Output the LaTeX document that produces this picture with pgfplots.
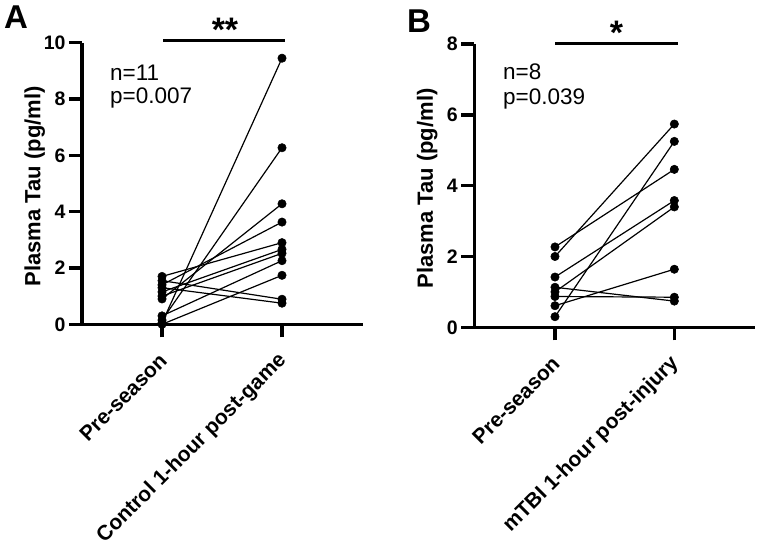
\documentclass[border=0pt]{standalone}
\usepackage{fontspec}
\setmainfont{Liberation Sans}
\usepackage{pgfplots}
\pgfplotsset{compat=1.18}
\pgfplotsset{
 pp/.style={black, solid, line width=1.2pt, mark=*, mark size=4.2pt, mark options={solid, fill=black, draw=black, line width=0.5pt}},
 mystyle/.style={
  scale only axis,
  axis x line=bottom, axis y line=left,
  axis line style={line width=3.5pt, -, black},
  every tick/.style={line width=3.5pt, black},
  major tick length=13pt,
  tick align=outside,
  xtick={1,2},
  ymin=0,
  /pgf/number format/assume math mode=true,
  yticklabel style={font=\fontsize{19.5}{20}\selectfont\bfseries},
  xticklabel style={rotate=45, anchor=east, font=\fontsize{21}{22}\selectfont\bfseries, xshift=-10pt, yshift=-15pt},
  ylabel style={at={(axis description cs:-0.168,0.49)}, anchor=center, font=\fontsize{22}{24}\selectfont\bfseries},
  ylabel={Plasma Tau (pg/ml)},
  clip=false,
 }
}
\begin{document}
\begin{tikzpicture}
\path[use as bounding box] (0,0) rectangle (760pt,-547pt);
% Panel A
\begin{axis}[mystyle, at={(82pt,-324.3pt)}, anchor=south west,
  width=281pt, height=281.6pt, xmin=0.333, xmax=2.675, ymax=10,
  ytick={0,2,4,6,8,10}, xticklabels={Pre-season, Control 1-hour post-game}]
\addplot[pp] coordinates {(1,0.05) (2,9.45)};
\addplot[pp] coordinates {(1,0.15) (2,6.27)};
\addplot[pp] coordinates {(1,0.90) (2,4.28)};
\addplot[pp] coordinates {(1,1.40) (2,3.63)};
\addplot[pp] coordinates {(1,1.70) (2,2.90)};
\addplot[pp] coordinates {(1,1.15) (2,2.66)};
\addplot[pp] coordinates {(1,1.00) (2,2.52)};
\addplot[pp] coordinates {(1,0.30) (2,2.26)};
\addplot[pp] coordinates {(1,0.00) (2,1.74)};
\addplot[pp] coordinates {(1,1.55) (2,0.89)};
\addplot[pp] coordinates {(1,1.30) (2,0.75)};
\end{axis}
% Panel B
\begin{axis}[mystyle, at={(474.3pt,-327.3pt)}, anchor=south west,
  width=280.7pt, height=283.3pt, xmin=0.324, xmax=2.676, ymax=8,
  ytick={0,2,4,6,8}, xticklabels={Pre-season, mTBI 1-hour post-injury}]
\addplot[pp] coordinates {(1,2.27) (2,4.46)};
\addplot[pp] coordinates {(1,2.00) (2,5.74)};
\addplot[pp] coordinates {(1,1.42) (2,3.58)};
\addplot[pp] coordinates {(1,1.00) (2,3.40)};
\addplot[pp] coordinates {(1,1.13) (2,0.74)};
\addplot[pp] coordinates {(1,0.87) (2,0.85)};
\addplot[pp] coordinates {(1,0.61) (2,1.64)};
\addplot[pp] coordinates {(1,0.30) (2,5.25)};
\end{axis}
% annotations
\node[anchor=base west, inner sep=0, font=\fontsize{33}{33}\selectfont\bfseries] at (4pt,-28.5pt) {A};
\node[anchor=base west, inner sep=0, font=\fontsize{33}{33}\selectfont\bfseries] at (407pt,-32pt) {B};
\node[anchor=base west, inner sep=0, font=\fontsize{22.5}{24}\selectfont] at (110pt,-80pt) {n=11};
\node[anchor=base west, inner sep=0, font=\fontsize{22.5}{24}\selectfont] at (110pt,-103.5pt) {p=0.007};
\node[anchor=base west, inner sep=0, font=\fontsize{22.5}{24}\selectfont] at (503pt,-79.5pt) {n=8};
\node[anchor=base west, inner sep=0, font=\fontsize{22.5}{24}\selectfont] at (503pt,-104pt) {p=0.039};
\draw[line width=2.7pt] (163pt,-40.7pt) -- (285pt,-40.7pt);
\draw[line width=2.7pt] (555pt,-43.3pt) -- (678pt,-43.3pt);
\node[anchor=base, inner sep=0, font=\fontsize{34}{34}\selectfont\bfseries] at (225pt,-41pt) {**};
\node[anchor=base, inner sep=0, font=\fontsize{34}{34}\selectfont\bfseries] at (616.5pt,-44pt) {*};
\end{tikzpicture}
\end{document}
